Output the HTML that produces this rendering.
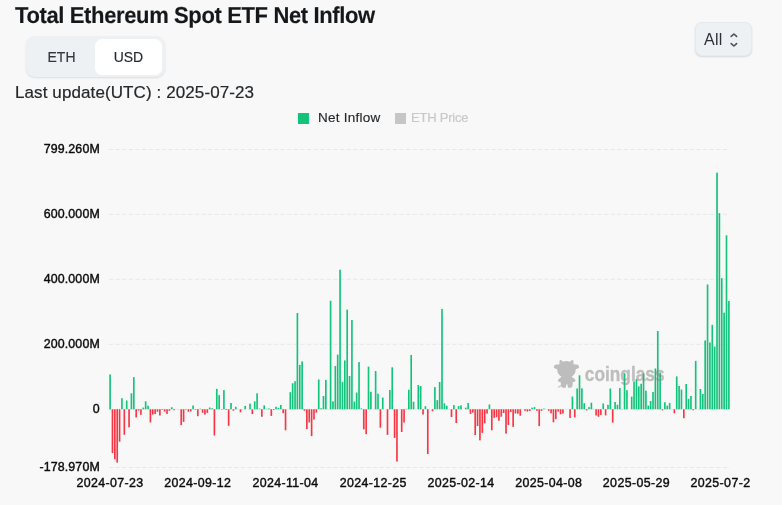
<!DOCTYPE html>
<html lang="en">
<head>
<meta charset="utf-8">
<title>Total Ethereum Spot ETF Net Inflow</title>
<style>
html,body{margin:0;padding:0}
body{width:782px;height:505px;overflow:hidden;background:#f8f8f8;position:relative;
 font-family:"Liberation Sans",sans-serif;color:#171a1c;-webkit-font-smoothing:antialiased}
.abs{position:absolute;white-space:nowrap}
h1{position:absolute;left:15px;top:1.5px;margin:0;font-size:22px;line-height:28px;font-weight:bold;letter-spacing:-0.37px;transform:scaleY(1.045);transform-origin:0 21.5px;text-rendering:geometricPrecision;-webkit-text-stroke:0.15px #15181b;color:#15181b;white-space:nowrap}
.toggle{position:absolute;left:26px;top:36px;width:138.5px;height:41px;border-radius:9px;background:#eef1f4;
 box-shadow:0 1px 2px rgba(21,21,21,.12)}
.toggle span{position:absolute;top:0;height:41px;line-height:41.4px;-webkit-text-stroke:0.2px #32383e;font-size:15.5px;text-align:center;color:#32383e}
.toggle i{display:inline-block;font-style:normal;transform:scaleX(0.9)}
.toggle .sel{left:69px;top:3px;width:67px;height:36px;line-height:35.4px;background:#fff;border-radius:7px;color:#25282b}
.toggle .eth{left:2.2px;width:66px}
.upd{-webkit-text-stroke:0.2px #25282b;left:15px;top:81.5px;font-size:17px;line-height:22px;letter-spacing:0.1px;color:#25282b}
.select{position:absolute;left:694.5px;top:22.3px;width:57px;height:33.7px;border-radius:7px;background:#eef1f4;border:1px solid #e6e9ed;
 box-shadow:0 1px 2px rgba(21,21,21,.14);box-sizing:border-box}
.select span{position:absolute;left:8.6px;top:0px;line-height:34px;font-size:16px;letter-spacing:0.25px;color:#2c3238}
.select svg{position:absolute;left:32.5px;top:7.7px}
.legend{font-size:13.5px;line-height:16px;top:110px}
.sw{position:absolute;width:11.3px;height:11.2px;top:113px}
svg.chart{position:absolute;left:0;top:0}
svg.chart text{font-family:"Liberation Sans",sans-serif;font-size:12.4px;fill:#0c0c0c;letter-spacing:0.14px;stroke:#0c0c0c;stroke-width:0.4px}
svg.chart .xl text{letter-spacing:0.37px}
.clip{position:absolute;left:0;top:0;width:750px;height:505px;overflow:hidden}
</style>
</head>
<body>
<h1>Total Ethereum Spot ETF Net Inflow</h1>
<div class="toggle"><span class="eth"><i>ETH</i></span><span class="sel"><i>USD</i></span></div>
<div class="abs upd">Last update(UTC) : 2025-07-23</div>
<div class="select"><span>All</span>
<svg width="12" height="18" viewBox="0 0 12 18" fill="none" stroke="#4a515a" stroke-width="1.6" stroke-linecap="round" stroke-linejoin="round"><path d="M3.2 5.4 L5.9 3 L8.6 5.4"/><path d="M3.2 12.6 L5.9 15 L8.6 12.6"/></svg>
</div>
<div class="sw" style="left:298px;background:#12c37a"></div>
<div class="abs legend" style="left:318px;color:#25282b;letter-spacing:0.24px;-webkit-text-stroke:0.15px #25282b">Net Inflow</div>
<div class="sw" style="left:395px;background:#c6c6c6"></div>
<div class="abs legend" style="left:411px;color:#c8c8c8;font-size:13px;letter-spacing:-0.22px;-webkit-text-stroke:0.15px #c8c8c8">ETH Price</div>
<div class="clip">
<svg class="chart" width="782" height="505" viewBox="0 0 782 505">
<g stroke="#e8e8e8" stroke-width="1" stroke-dasharray="4.4 2.2" fill="none">
<line x1="108.9" x2="730.0" y1="149.54" y2="149.54"/>
<line x1="108.9" x2="730.0" y1="214.3" y2="214.3"/>
<line x1="108.9" x2="730.0" y1="279.3" y2="279.3"/>
<line x1="108.9" x2="730.0" y1="344.3" y2="344.3"/>
<line x1="108.9" x2="730.0" y1="409.3" y2="409.3"/>
<line x1="108.9" x2="730.0" y1="467.47" y2="467.47"/>
</g>
<g>
<text x="99.9" y="152.94" text-anchor="end">799.260M</text>
<text x="99.9" y="217.7" text-anchor="end">600.000M</text>
<text x="99.9" y="282.7" text-anchor="end">400.000M</text>
<text x="99.9" y="347.7" text-anchor="end">200.000M</text>
<text x="99.9" y="412.7" text-anchor="end">0</text>
<text x="99.9" y="470.87" text-anchor="end">-178.970M</text>
</g>
<g class="xl">
<text x="110.1" y="486.5" text-anchor="middle">2024-07-23</text>
<text x="197.82" y="486.5" text-anchor="middle">2024-09-12</text>
<text x="285.54" y="486.5" text-anchor="middle">2024-11-04</text>
<text x="373.26" y="486.5" text-anchor="middle">2024-12-25</text>
<text x="460.98" y="486.5" text-anchor="middle">2025-02-14</text>
<text x="548.7" y="486.5" text-anchor="middle">2025-04-08</text>
<text x="636.42" y="486.5" text-anchor="middle">2025-05-29</text>
<text x="724.14" y="486.5" text-anchor="middle">2025-07-21</text>
</g>
<g shape-rendering="auto">
<rect x="109.27" y="374.49" width="1.65" height="34.76" fill="#12c37a"/>
<rect x="111.65" y="409.25" width="1.65" height="43.8" fill="#f93543"/>
<rect x="114.02" y="409.25" width="1.65" height="49.99" fill="#f93543"/>
<rect x="116.39" y="409.25" width="1.65" height="53.38" fill="#f93543"/>
<rect x="118.76" y="409.25" width="1.65" height="32.41" fill="#f93543"/>
<rect x="121.13" y="398.23" width="1.65" height="11.02" fill="#12c37a"/>
<rect x="123.5" y="409.25" width="1.65" height="25.54" fill="#f93543"/>
<rect x="125.87" y="400.51" width="1.65" height="8.74" fill="#12c37a"/>
<rect x="128.24" y="409.25" width="1.65" height="18.08" fill="#f93543"/>
<rect x="130.61" y="393.31" width="1.65" height="15.94" fill="#12c37a"/>
<rect x="132.98" y="377.16" width="1.65" height="32.09" fill="#12c37a"/>
<rect x="135.35" y="409.25" width="1.65" height="8.12" fill="#f93543"/>
<rect x="137.72" y="409.25" width="1.65" height="1.34" fill="#f93543"/>
<rect x="140.1" y="409.25" width="1.65" height="5.54" fill="#f93543"/>
<rect x="142.47" y="407.6" width="1.65" height="1.65" fill="#12c37a"/>
<rect x="144.84" y="401.29" width="1.65" height="7.96" fill="#12c37a"/>
<rect x="147.21" y="405.68" width="1.65" height="3.57" fill="#12c37a"/>
<rect x="149.58" y="409.25" width="1.65" height="13.16" fill="#f93543"/>
<rect x="151.95" y="409.25" width="1.65" height="5.32" fill="#f93543"/>
<rect x="154.32" y="409.25" width="1.65" height="4.8" fill="#f93543"/>
<rect x="156.69" y="409.25" width="1.65" height="2.52" fill="#f93543"/>
<rect x="159.06" y="409.25" width="1.65" height="6.26" fill="#f93543"/>
<rect x="161.43" y="409.25" width="1.65" height="0.66" fill="#f93543"/>
<rect x="163.8" y="409.25" width="1.65" height="2.26" fill="#f93543"/>
<rect x="166.17" y="409.25" width="1.65" height="4.7" fill="#f93543"/>
<rect x="168.55" y="409.25" width="1.65" height="1.51" fill="#f93543"/>
<rect x="170.92" y="407.28" width="1.65" height="1.97" fill="#12c37a"/>
<rect x="173.29" y="409.25" width="1.65" height="0.95" fill="#f93543"/>
<rect x="180.4" y="409.25" width="1.65" height="15.83" fill="#f93543"/>
<rect x="182.77" y="409.25" width="1.65" height="12.61" fill="#f93543"/>
<rect x="185.14" y="409.25" width="1.65" height="0.47" fill="#f93543"/>
<rect x="187.51" y="409.25" width="1.65" height="2.35" fill="#f93543"/>
<rect x="189.88" y="409.25" width="1.65" height="2.09" fill="#f93543"/>
<rect x="192.25" y="405.49" width="1.65" height="3.76" fill="#12c37a"/>
<rect x="194.62" y="409.25" width="1.65" height="0.56" fill="#f93543"/>
<rect x="196.99" y="409.25" width="1.65" height="6.94" fill="#f93543"/>
<rect x="199.37" y="408.71" width="1.65" height="0.54" fill="#12c37a"/>
<rect x="201.74" y="409.25" width="1.65" height="3.46" fill="#f93543"/>
<rect x="204.11" y="409.25" width="1.65" height="5.32" fill="#f93543"/>
<rect x="206.48" y="409.25" width="1.65" height="3.59" fill="#f93543"/>
<rect x="208.85" y="407.51" width="1.65" height="1.74" fill="#12c37a"/>
<rect x="211.22" y="408.26" width="1.65" height="0.99" fill="#12c37a"/>
<rect x="213.59" y="409.25" width="1.65" height="26.22" fill="#f93543"/>
<rect x="215.96" y="388.85" width="1.65" height="20.4" fill="#12c37a"/>
<rect x="218.33" y="395.13" width="1.65" height="14.12" fill="#12c37a"/>
<rect x="220.7" y="409.25" width="1.65" height="0.43" fill="#f93543"/>
<rect x="223.07" y="390.09" width="1.65" height="19.16" fill="#12c37a"/>
<rect x="225.44" y="409.25" width="1.65" height="0.66" fill="#f93543"/>
<rect x="227.81" y="409.25" width="1.65" height="16.52" fill="#f93543"/>
<rect x="230.19" y="403.01" width="1.65" height="6.24" fill="#12c37a"/>
<rect x="232.56" y="409.25" width="1.65" height="1.44" fill="#f93543"/>
<rect x="234.93" y="406.79" width="1.65" height="2.46" fill="#12c37a"/>
<rect x="239.67" y="409.25" width="1.65" height="3.07" fill="#f93543"/>
<rect x="244.41" y="405.94" width="1.65" height="3.31" fill="#12c37a"/>
<rect x="249.15" y="403.66" width="1.65" height="5.59" fill="#12c37a"/>
<rect x="251.52" y="409.25" width="1.65" height="4.89" fill="#f93543"/>
<rect x="253.89" y="401.32" width="1.65" height="7.93" fill="#12c37a"/>
<rect x="256.26" y="393.31" width="1.65" height="15.94" fill="#12c37a"/>
<rect x="258.64" y="408.58" width="1.65" height="0.67" fill="#12c37a"/>
<rect x="261.01" y="409.25" width="1.65" height="7.5" fill="#f93543"/>
<rect x="263.38" y="405.33" width="1.65" height="3.92" fill="#12c37a"/>
<rect x="265.75" y="408.81" width="1.65" height="0.44" fill="#12c37a"/>
<rect x="268.12" y="408.45" width="1.65" height="0.8" fill="#12c37a"/>
<rect x="270.49" y="409.25" width="1.65" height="6.65" fill="#f93543"/>
<rect x="272.86" y="409.25" width="1.65" height="0.76" fill="#f93543"/>
<rect x="275.23" y="406.73" width="1.65" height="2.52" fill="#12c37a"/>
<rect x="277.6" y="407.77" width="1.65" height="1.48" fill="#12c37a"/>
<rect x="279.97" y="404.97" width="1.65" height="4.28" fill="#12c37a"/>
<rect x="282.34" y="409.25" width="1.65" height="3.95" fill="#f93543"/>
<rect x="284.71" y="409.25" width="1.65" height="20.98" fill="#f93543"/>
<rect x="289.46" y="392.17" width="1.65" height="17.08" fill="#12c37a"/>
<rect x="291.83" y="383.25" width="1.65" height="26" fill="#12c37a"/>
<rect x="294.2" y="381.23" width="1.65" height="28.02" fill="#12c37a"/>
<rect x="296.57" y="312.99" width="1.65" height="96.26" fill="#12c37a"/>
<rect x="298.94" y="364.95" width="1.65" height="44.3" fill="#12c37a"/>
<rect x="301.31" y="361.37" width="1.65" height="47.88" fill="#12c37a"/>
<rect x="303.68" y="409.25" width="1.65" height="1.44" fill="#f93543"/>
<rect x="306.05" y="409.25" width="1.65" height="19.87" fill="#f93543"/>
<rect x="308.42" y="409.25" width="1.65" height="13.13" fill="#f93543"/>
<rect x="310.79" y="409.25" width="1.65" height="26.87" fill="#f93543"/>
<rect x="313.16" y="409.25" width="1.65" height="10.27" fill="#f93543"/>
<rect x="315.53" y="409.25" width="1.65" height="3.33" fill="#f93543"/>
<rect x="317.91" y="379.47" width="1.65" height="29.78" fill="#12c37a"/>
<rect x="320.28" y="408.29" width="1.65" height="0.96" fill="#12c37a"/>
<rect x="322.65" y="395.98" width="1.65" height="13.27" fill="#12c37a"/>
<rect x="325.02" y="379.86" width="1.65" height="29.39" fill="#12c37a"/>
<rect x="329.76" y="300.81" width="1.65" height="108.44" fill="#12c37a"/>
<rect x="332.13" y="401.32" width="1.65" height="7.93" fill="#12c37a"/>
<rect x="334.5" y="366.03" width="1.65" height="43.22" fill="#12c37a"/>
<rect x="336.87" y="354.6" width="1.65" height="54.65" fill="#12c37a"/>
<rect x="339.24" y="269.68" width="1.65" height="139.57" fill="#12c37a"/>
<rect x="341.61" y="381.91" width="1.65" height="27.34" fill="#12c37a"/>
<rect x="343.98" y="360.43" width="1.65" height="48.82" fill="#12c37a"/>
<rect x="346.36" y="309.66" width="1.65" height="99.59" fill="#12c37a"/>
<rect x="348.73" y="375.99" width="1.65" height="33.26" fill="#12c37a"/>
<rect x="351.1" y="320.08" width="1.65" height="89.17" fill="#12c37a"/>
<rect x="353.47" y="401.52" width="1.65" height="7.73" fill="#12c37a"/>
<rect x="355.84" y="392.56" width="1.65" height="16.69" fill="#12c37a"/>
<rect x="358.21" y="362.09" width="1.65" height="47.16" fill="#12c37a"/>
<rect x="360.58" y="408.39" width="1.65" height="0.86" fill="#12c37a"/>
<rect x="362.95" y="409.25" width="1.65" height="20.1" fill="#f93543"/>
<rect x="365.32" y="409.25" width="1.65" height="24.85" fill="#f93543"/>
<rect x="367.69" y="366.61" width="1.65" height="42.64" fill="#12c37a"/>
<rect x="370.06" y="391.75" width="1.65" height="17.5" fill="#12c37a"/>
<rect x="374.8" y="371.04" width="1.65" height="38.21" fill="#12c37a"/>
<rect x="377.18" y="393.67" width="1.65" height="15.58" fill="#12c37a"/>
<rect x="379.55" y="409.25" width="1.65" height="18.47" fill="#f93543"/>
<rect x="381.92" y="397.51" width="1.65" height="11.74" fill="#12c37a"/>
<rect x="386.66" y="409.25" width="1.65" height="25.63" fill="#f93543"/>
<rect x="389.03" y="390.02" width="1.65" height="19.23" fill="#12c37a"/>
<rect x="391.4" y="367.3" width="1.65" height="41.95" fill="#12c37a"/>
<rect x="393.77" y="409.25" width="1.65" height="28.66" fill="#f93543"/>
<rect x="396.14" y="409.25" width="1.65" height="52.3" fill="#f93543"/>
<rect x="400.88" y="409.25" width="1.65" height="22.7" fill="#f93543"/>
<rect x="403.25" y="409.25" width="1.65" height="13.23" fill="#f93543"/>
<rect x="405.63" y="408.81" width="1.65" height="0.44" fill="#12c37a"/>
<rect x="408" y="389.73" width="1.65" height="19.52" fill="#12c37a"/>
<rect x="410.37" y="354.96" width="1.65" height="54.29" fill="#12c37a"/>
<rect x="412.74" y="401.71" width="1.65" height="7.54" fill="#12c37a"/>
<rect x="417.48" y="384.98" width="1.65" height="24.27" fill="#12c37a"/>
<rect x="419.85" y="386.05" width="1.65" height="23.2" fill="#12c37a"/>
<rect x="422.22" y="409.25" width="1.65" height="5.25" fill="#f93543"/>
<rect x="424.59" y="406.2" width="1.65" height="3.05" fill="#12c37a"/>
<rect x="426.96" y="409.25" width="1.65" height="44.75" fill="#f93543"/>
<rect x="431.7" y="409.25" width="1.65" height="1.96" fill="#f93543"/>
<rect x="434.07" y="387.12" width="1.65" height="22.13" fill="#12c37a"/>
<rect x="436.45" y="400.15" width="1.65" height="9.1" fill="#12c37a"/>
<rect x="438.82" y="381.98" width="1.65" height="27.27" fill="#12c37a"/>
<rect x="441.19" y="308.98" width="1.65" height="100.27" fill="#12c37a"/>
<rect x="443.56" y="403.31" width="1.65" height="5.94" fill="#12c37a"/>
<rect x="445.93" y="405.72" width="1.65" height="3.53" fill="#12c37a"/>
<rect x="450.67" y="409.25" width="1.65" height="7.73" fill="#f93543"/>
<rect x="453.04" y="405.1" width="1.65" height="4.15" fill="#12c37a"/>
<rect x="455.41" y="409.25" width="1.65" height="13.72" fill="#f93543"/>
<rect x="457.78" y="406.14" width="1.65" height="3.11" fill="#12c37a"/>
<rect x="460.15" y="405.39" width="1.65" height="3.86" fill="#12c37a"/>
<rect x="464.9" y="407.7" width="1.65" height="1.55" fill="#12c37a"/>
<rect x="467.27" y="403.01" width="1.65" height="6.24" fill="#12c37a"/>
<rect x="469.64" y="409.25" width="1.65" height="4.67" fill="#f93543"/>
<rect x="472.01" y="409.25" width="1.65" height="3.3" fill="#f93543"/>
<rect x="474.38" y="409.25" width="1.65" height="25.8" fill="#f93543"/>
<rect x="476.75" y="409.25" width="1.65" height="16.71" fill="#f93543"/>
<rect x="479.12" y="409.25" width="1.65" height="31.1" fill="#f93543"/>
<rect x="481.49" y="409.25" width="1.65" height="23.55" fill="#f93543"/>
<rect x="483.86" y="409.25" width="1.65" height="14.04" fill="#f93543"/>
<rect x="486.23" y="409.25" width="1.65" height="4.34" fill="#f93543"/>
<rect x="488.6" y="404.45" width="1.65" height="4.8" fill="#12c37a"/>
<rect x="490.97" y="409.25" width="1.65" height="21.01" fill="#f93543"/>
<rect x="493.34" y="409.25" width="1.65" height="8.57" fill="#f93543"/>
<rect x="495.72" y="409.25" width="1.65" height="7.92" fill="#f93543"/>
<rect x="498.09" y="409.25" width="1.65" height="11.47" fill="#f93543"/>
<rect x="500.46" y="409.25" width="1.65" height="7.43" fill="#f93543"/>
<rect x="502.83" y="409.25" width="1.65" height="3.75" fill="#f93543"/>
<rect x="505.2" y="409.25" width="1.65" height="24.36" fill="#f93543"/>
<rect x="507.57" y="409.25" width="1.65" height="15.67" fill="#f93543"/>
<rect x="509.94" y="409.25" width="1.65" height="2.78" fill="#f93543"/>
<rect x="512.31" y="409.25" width="1.65" height="17.59" fill="#f93543"/>
<rect x="514.68" y="409.25" width="1.65" height="4.21" fill="#f93543"/>
<rect x="517.05" y="409.25" width="1.65" height="4.47" fill="#f93543"/>
<rect x="519.42" y="409.25" width="1.65" height="6.46" fill="#f93543"/>
<rect x="524.16" y="409.25" width="1.65" height="1.47" fill="#f93543"/>
<rect x="526.54" y="409.25" width="1.65" height="2.32" fill="#f93543"/>
<rect x="528.91" y="409.25" width="1.65" height="1.77" fill="#f93543"/>
<rect x="531.28" y="407.67" width="1.65" height="1.58" fill="#12c37a"/>
<rect x="533.65" y="407.12" width="1.65" height="2.13" fill="#12c37a"/>
<rect x="536.02" y="409.25" width="1.65" height="1.57" fill="#f93543"/>
<rect x="538.39" y="409.25" width="1.65" height="16.84" fill="#f93543"/>
<rect x="540.76" y="409.25" width="1.65" height="1.57" fill="#f93543"/>
<rect x="543.13" y="408.52" width="1.65" height="0.73" fill="#12c37a"/>
<rect x="547.87" y="409.25" width="1.65" height="1.47" fill="#f93543"/>
<rect x="550.24" y="409.25" width="1.65" height="4.05" fill="#f93543"/>
<rect x="552.61" y="409.25" width="1.65" height="13.03" fill="#f93543"/>
<rect x="554.99" y="409.25" width="1.65" height="9.91" fill="#f93543"/>
<rect x="557.36" y="409.25" width="1.65" height="2.35" fill="#f93543"/>
<rect x="559.73" y="409.25" width="1.65" height="5.02" fill="#f93543"/>
<rect x="562.1" y="409.25" width="1.65" height="4.31" fill="#f93543"/>
<rect x="569.21" y="409.25" width="1.65" height="8.67" fill="#f93543"/>
<rect x="571.58" y="396.57" width="1.65" height="12.68" fill="#12c37a"/>
<rect x="573.95" y="409.25" width="1.65" height="8.18" fill="#f93543"/>
<rect x="576.32" y="388.52" width="1.65" height="20.73" fill="#12c37a"/>
<rect x="578.69" y="375.31" width="1.65" height="33.94" fill="#12c37a"/>
<rect x="581.06" y="388.33" width="1.65" height="20.92" fill="#12c37a"/>
<rect x="583.43" y="403.21" width="1.65" height="6.04" fill="#12c37a"/>
<rect x="585.81" y="409.25" width="1.65" height="1.15" fill="#f93543"/>
<rect x="588.18" y="407.08" width="1.65" height="2.17" fill="#12c37a"/>
<rect x="590.55" y="402.66" width="1.65" height="6.59" fill="#12c37a"/>
<rect x="595.29" y="409.25" width="1.65" height="6.23" fill="#f93543"/>
<rect x="597.66" y="409.25" width="1.65" height="7.5" fill="#f93543"/>
<rect x="600.03" y="409.25" width="1.65" height="5.64" fill="#f93543"/>
<rect x="602.4" y="403.47" width="1.65" height="5.78" fill="#12c37a"/>
<rect x="604.77" y="409.25" width="1.65" height="6.13" fill="#f93543"/>
<rect x="607.14" y="404.8" width="1.65" height="4.45" fill="#12c37a"/>
<rect x="609.51" y="388.52" width="1.65" height="20.73" fill="#12c37a"/>
<rect x="611.88" y="409.25" width="1.65" height="13.36" fill="#f93543"/>
<rect x="614.26" y="402" width="1.65" height="7.25" fill="#12c37a"/>
<rect x="616.63" y="404.74" width="1.65" height="4.51" fill="#12c37a"/>
<rect x="619" y="388.1" width="1.65" height="21.15" fill="#12c37a"/>
<rect x="621.37" y="409" width="1.65" height="0.25" fill="#12c37a"/>
<rect x="623.74" y="373.22" width="1.65" height="36.03" fill="#12c37a"/>
<rect x="626.11" y="390.12" width="1.65" height="19.13" fill="#12c37a"/>
<rect x="630.85" y="396.57" width="1.65" height="12.68" fill="#12c37a"/>
<rect x="633.22" y="381.56" width="1.65" height="27.69" fill="#12c37a"/>
<rect x="635.59" y="379.28" width="1.65" height="29.97" fill="#12c37a"/>
<rect x="637.96" y="386.34" width="1.65" height="22.91" fill="#12c37a"/>
<rect x="640.33" y="383.74" width="1.65" height="25.51" fill="#12c37a"/>
<rect x="642.7" y="373.55" width="1.65" height="35.7" fill="#12c37a"/>
<rect x="645.08" y="390.64" width="1.65" height="18.61" fill="#12c37a"/>
<rect x="647.45" y="405.52" width="1.65" height="3.73" fill="#12c37a"/>
<rect x="649.82" y="400.96" width="1.65" height="8.29" fill="#12c37a"/>
<rect x="652.19" y="392.04" width="1.65" height="17.21" fill="#12c37a"/>
<rect x="654.56" y="368.5" width="1.65" height="40.75" fill="#12c37a"/>
<rect x="656.93" y="330.96" width="1.65" height="78.29" fill="#12c37a"/>
<rect x="659.3" y="372.64" width="1.65" height="36.61" fill="#12c37a"/>
<rect x="661.67" y="409.25" width="1.65" height="1.08" fill="#f93543"/>
<rect x="664.04" y="402.23" width="1.65" height="7.02" fill="#12c37a"/>
<rect x="666.41" y="405.59" width="1.65" height="3.66" fill="#12c37a"/>
<rect x="668.78" y="402.98" width="1.65" height="6.27" fill="#12c37a"/>
<rect x="673.53" y="409.25" width="1.65" height="4.08" fill="#f93543"/>
<rect x="675.9" y="376.41" width="1.65" height="32.84" fill="#12c37a"/>
<rect x="678.27" y="385.98" width="1.65" height="23.27" fill="#12c37a"/>
<rect x="680.64" y="389.53" width="1.65" height="19.72" fill="#12c37a"/>
<rect x="683.01" y="409.25" width="1.65" height="9" fill="#f93543"/>
<rect x="685.38" y="383.97" width="1.65" height="25.28" fill="#12c37a"/>
<rect x="687.75" y="398.85" width="1.65" height="10.4" fill="#12c37a"/>
<rect x="690.12" y="395.95" width="1.65" height="13.3" fill="#12c37a"/>
<rect x="692.49" y="409.25" width="1.65" height="0.99" fill="#f93543"/>
<rect x="694.86" y="360.85" width="1.65" height="48.4" fill="#12c37a"/>
<rect x="699.6" y="388.98" width="1.65" height="20.27" fill="#12c37a"/>
<rect x="701.98" y="393.99" width="1.65" height="15.26" fill="#12c37a"/>
<rect x="704.35" y="340.4" width="1.65" height="68.85" fill="#12c37a"/>
<rect x="706.72" y="284.46" width="1.65" height="124.79" fill="#12c37a"/>
<rect x="709.09" y="342.48" width="1.65" height="66.77" fill="#12c37a"/>
<rect x="711.46" y="324.87" width="1.65" height="84.38" fill="#12c37a"/>
<rect x="713.83" y="346.59" width="1.65" height="62.66" fill="#12c37a"/>
<rect x="716.2" y="172.62" width="1.65" height="236.63" fill="#12c37a"/>
<rect x="718.57" y="213.19" width="1.65" height="196.06" fill="#12c37a"/>
<rect x="720.94" y="278.15" width="1.65" height="131.1" fill="#12c37a"/>
<rect x="723.31" y="312.66" width="1.65" height="96.59" fill="#12c37a"/>
<rect x="725.68" y="235.36" width="1.65" height="173.89" fill="#12c37a"/>
<rect x="728.05" y="301.04" width="1.65" height="108.21" fill="#12c37a"/>
</g>
<g id="wm" opacity="0.5" fill="#848484">
<g transform="translate(550,355) scale(0.0792)">
<path d="M208 76 Q262 76 296 110 Q326 142 326 182 Q326 230 290 262 Q260 290 208 290 Q156 290 126 262 Q90 230 90 182 Q90 142 120 110 Q154 76 208 76 Z"/>
<path d="M116 112 L123 67 Q131 56 144 66 L166 88 Z"/>
<path d="M300 112 L293 67 Q285 56 272 66 L250 88 Z"/>
<path d="M112 118 L68 124 Q44 134 50 156 Q58 178 84 178 L108 176 Z"/>
<path d="M304 118 L348 124 Q372 134 366 156 Q358 178 332 178 L308 176 Z"/>
<path d="M150 262 L266 262 Q286 290 314 304 Q330 322 312 340 L288 342 L284 392 Q280 414 258 412 L234 412 Q224 412 224 400 L222 372 L204 372 L202 400 Q202 412 192 412 L166 412 Q144 414 140 392 L134 342 L110 340 Q92 322 108 304 Q136 290 150 262 Z"/>
<path d="M106 408 L134 388" stroke="#848484" stroke-width="13" stroke-linecap="round" fill="none"/>
</g>
<text transform="translate(584.8,380.6) scale(0.866,1)" x="0" y="0" style="font-size:20px;font-weight:bold;fill:#848484;letter-spacing:0;stroke:#848484;stroke-width:0.35px;stroke-linejoin:round">coinglass</text>
</g>
</svg>
</div>
</body>
</html>
